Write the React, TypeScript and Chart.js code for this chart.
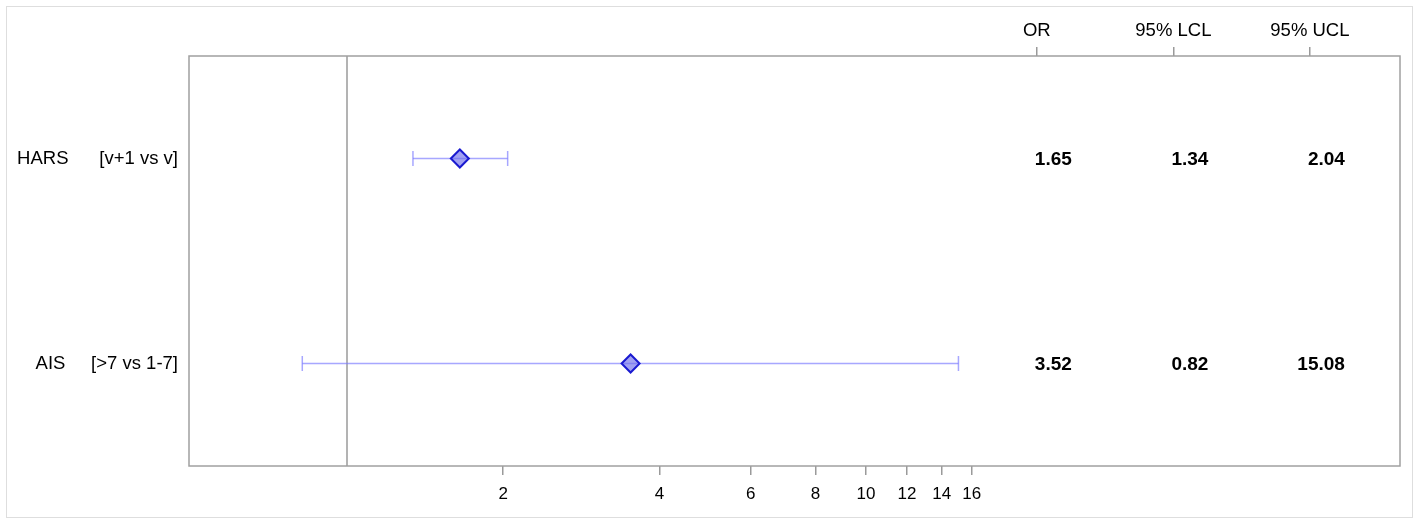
import React, { useEffect, useRef } from "react";
import { Chart, registerables } from "chart.js";

Chart.register(...registerables);

const rowLabels = ["HARS      [v+1 vs v]", "AIS     [>7 vs 1-7]"];
const oddsRatio = [1.65, 3.52];
const lowerCL = [1.34, 0.82];
const upperCL = [2.04, 15.08];
const columnHeaders = ["OR", "95% LCL", "95% UCL"];
const xTickValues = [2, 4, 6, 8, 10, 12, 14, 16];
const referenceValue = 1;

const FONT = "'Liberation Sans', Arial, sans-serif";

export default function App() {
  const ref = useRef<HTMLCanvasElement | null>(null);

  useEffect(() => {
    if (!ref.current) return;

    const boxPlugin = {
      id: "forestBox",
      beforeDatasetsDraw(chart: any) {
        const { ctx, chartArea, scales } = chart;
        ctx.save();
        const rx = scales.x.getPixelForValue(referenceValue);
        ctx.strokeStyle = "#9a9a9a";
        ctx.lineWidth = 1.5;
        ctx.beginPath();
        ctx.moveTo(rx, chartArea.top);
        ctx.lineTo(rx, chartArea.bottom);
        ctx.stroke();
        ctx.restore();
      },
      afterDatasetsDraw(chart: any) {
        const { ctx, chartArea, scales } = chart;
        ctx.save();
        ctx.strokeStyle = "#a0a0a0";
        ctx.lineWidth = 1.5;
        ctx.strokeRect(
          chartArea.left,
          chartArea.top,
          chartArea.right - chartArea.left,
          chartArea.bottom - chartArea.top
        );
        const cols = [oddsRatio, lowerCL, upperCL];
        ctx.fillStyle = "#000";
        ctx.font = `bold 19px ${FONT}`;
        ctx.textAlign = "right";
        ctx.textBaseline = "middle";
        cols.forEach((col, j) => {
          const x = scales.x2.getPixelForValue(j + 1) + 35;
          col.forEach((v, i) => {
            const y = scales.y.getPixelForValue(i) + 1;
            ctx.fillText(v.toFixed(2), x, y);
          });
        });
        ctx.restore();
      },
    };

    const errorSets = rowLabels.map((lab, i) => ({
      type: "scatter" as const,
      data: [
        { x: lowerCL[i], y: lab },
        { x: upperCL[i], y: lab },
      ],
      showLine: true,
      borderColor: "rgba(120,120,255,0.65)",
      borderWidth: 1.5,
      pointStyle: "line",
      rotation: 90,
      pointRadius: 7.5,
      pointBorderColor: "rgba(120,120,255,0.65)",
      pointBorderWidth: 1.5,
      order: 2,
    }));

    const chart = new Chart(ref.current, {
      type: "scatter",
      data: {
        datasets: [
          ...errorSets,
          {
            type: "scatter",
            data: rowLabels.map((lab, i) => ({ x: oddsRatio[i], y: lab })),
            pointStyle: "rectRot",
            pointRadius: 9,
            backgroundColor: "rgba(110,110,235,0.65)",
            borderColor: "#1a1ad0",
            borderWidth: 2,
            order: 1,
          } as any,
        ],
      },
      options: {
        animation: false,
        responsive: false,
        maintainAspectRatio: false,
        layout: { padding: { left: 0, right: 18, top: 0, bottom: 0 } },
        plugins: {
          legend: { display: false },
          tooltip: { enabled: false },
        },
        scales: {
          x: {
            type: "logarithmic",
            position: "bottom",
            min: 0.496,
            max: 107,
            afterBuildTicks: (s: any) => {
              s.ticks = xTickValues.map((v) => ({ value: v }));
            },
            afterFit: (s: any) => {
              s.height = 57;
            },
            ticks: {
              autoSkip: false,
              maxRotation: 0,
              padding: 9,
              color: "#000",
              font: { family: FONT, size: 17 },
              callback: (v: any) => String(v),
            },
            grid: {
              display: true,
              drawOnChartArea: false,
              drawTicks: true,
              tickLength: 9,
              color: "#9a9a9a",
              lineWidth: 1.5,
            },
            border: { display: false },
          },
          x2: {
            type: "linear",
            position: "top",
            min: -5.21,
            max: 3.66,
            afterBuildTicks: (s: any) => {
              s.ticks = columnHeaders.map((_, i) => ({ value: i + 1 }));
            },
            afterFit: (s: any) => {
              s.height = 56;
            },
            ticks: {
              autoSkip: false,
              maxRotation: 0,
              padding: 5,
              color: "#000",
              font: { family: FONT, size: 18.5 },
              callback: (v: any) => columnHeaders[Math.round(v) - 1] ?? "",
            },
            grid: {
              display: true,
              drawOnChartArea: false,
              drawTicks: true,
              tickLength: 9,
              color: "#9a9a9a",
              lineWidth: 1.5,
            },
            border: { display: false },
          },
          y: {
            type: "category",
            labels: rowLabels,
            offset: true,
            afterFit: (s: any) => {
              s.width = 189;
            },
            ticks: {
              padding: 3,
              color: "#000",
              font: { family: FONT, size: 18.5 },
            },
            grid: { display: false },
            border: { display: false },
          },
        },
      } as any,
      plugins: [boxPlugin],
    });

    return () => chart.destroy();
  }, []);

  return (
    <div
      style={{
        position: "absolute",
        left: 0,
        top: 0,
        width: 1418,
        height: 523,
        background: "#fff",
      }}
    >
      <canvas ref={ref} width={1418} height={523} style={{ width: 1418, height: 523, display: "block" }} />
      <div
        style={{
          position: "absolute",
          left: 6,
          top: 6,
          width: 1407,
          height: 512,
          border: "1px solid #dedede",
          boxSizing: "border-box",
          pointerEvents: "none",
        }}
      />
    </div>
  );
}
